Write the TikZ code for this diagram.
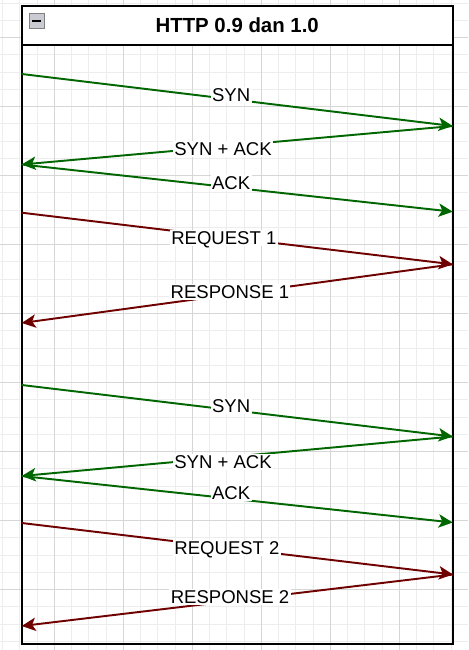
\documentclass[tikz,border=0pt]{standalone}
\usepackage{fontspec}
\setmainfont{Liberation Sans}
\usetikzlibrary{arrows.meta}
\definecolor{flowgreen}{HTML}{006600}
\definecolor{flowred}{HTML}{6F0000}
\definecolor{gridminor}{HTML}{EDEDED}
\definecolor{gridmajor}{HTML}{D6D6D6}
\definecolor{togglefill}{HTML}{C9CAD2}
\tikzstyle{synline} = [draw, flowgreen, line width=1.45pt, -{Stealth[length=10.5pt,width=10pt,inset=2.6pt]}]
\tikzstyle{dataline} = [draw, flowred, line width=1.45pt, -{Stealth[length=10.5pt,width=10pt,inset=2.6pt]}]
\tikzstyle{lbl} = [fill=white, inner sep=1pt, text=black, text depth=0pt, font=\fontsize{13.9}{16}\selectfont]
\tikzstyle{frame} = [draw, black, line width=1.5pt]
\tikzstyle{title} = [font=\fontsize{15.3}{18}\selectfont\bfseries]
\tikzstyle{toggle} = [draw=gray, fill=togglefill, minimum size=11pt, inner sep=0pt]

\begin{document}
\begin{tikzpicture}[x=0.75pt, y=-0.75pt]
    \useasboundingbox (0,0) rectangle (468,650);
    \fill[white] (0,0) rectangle (468,650);
    % background grid
    \foreach \gx in {2.55,19.8,...,468} \draw[gridminor, line width=0.75pt] (\gx,0) -- (\gx,650);
    \foreach \gy in {3.2,20.45,...,650} \draw[gridminor, line width=0.75pt] (0,\gy) -- (468,\gy);
    \foreach \gx in {54.3,123.3,...,468} \draw[gridmajor, line width=0.75pt] (\gx,0) -- (\gx,650);
    \foreach \gy in {37.7,106.7,...,650} \draw[gridmajor, line width=0.75pt] (0,\gy) -- (468,\gy);
    % container with header
    \fill[white] (21.7,5.7) rectangle (452.7,45);
    \draw[frame] (21.7,5.7) rectangle (452.7,644);
    \draw[frame] (21.7,45) -- (452.7,45);
    \node [title] (hdr) at (237.2,25.6) {HTTP 0.9 dan 1.0};
    \node [toggle] (tgl) at (36.7,20.7) {};
    \draw [black, line width=1.5pt] ([xshift=-3.2pt]tgl.center) -- ([xshift=3.2pt]tgl.center);
    % lifeline points
    \coordinate (a1) at (21.7,74);
    \coordinate (b1) at (452.7,126);
    \coordinate (a2) at (21.7,164.5);
    \coordinate (b2) at (452.7,211.7);
    \coordinate (a3) at (21.7,212.7);
    \coordinate (b3) at (452.7,264.3);
    \coordinate (a4) at (21.7,323);
    \coordinate (a5) at (21.7,385);
    \coordinate (b5) at (452.7,436.5);
    \coordinate (a6) at (21.7,476);
    \coordinate (b6) at (452.7,522.5);
    \coordinate (a7) at (21.7,523);
    \coordinate (b7) at (453,574.5);
    \coordinate (a8) at (21.7,626);
    % first connection
    \path [synline] (a1) -- node[lbl, pos=0.486, yshift=3.2pt] (syn1) {SYN} (b1);
    \path [synline] (b1) -- node[lbl, pos=0.533, yshift=-1.9pt] (synack1) {SYN + ACK} (a2);
    \path [synline] (a2) -- node[lbl, pos=0.486, yshift=3.3pt] (ack1) {ACK} (b2);
    \path [dataline] (a3) -- node[lbl, pos=0.469, yshift=-0.8pt] (req1) {REQUEST 1} (b3);
    \path [dataline] (b3) -- node[lbl, pos=0.517, yshift=2.2pt] (resp1) {RESPONSE 1} (a4);
    % second connection
    \path [synline] (a5) -- node[lbl, pos=0.486, yshift=3pt] (syn2) {SYN} (b5);
    \path [synline] (b5) -- node[lbl, pos=0.533, yshift=-3.3pt] (synack2) {SYN + ACK} (a6);
    \path [synline] (a6) -- node[lbl, pos=0.486, yshift=4.2pt] (ack2) {ACK} (b6);
    \path [dataline] (a7) -- node[lbl, pos=0.476, yshift=-0.4pt] (req2) {REQUEST 2} (b7);
    \path [dataline] (b7) -- node[lbl, pos=0.517, yshift=3.1pt] (resp2) {RESPONSE 2} (a8);
\end{tikzpicture}
\end{document}
